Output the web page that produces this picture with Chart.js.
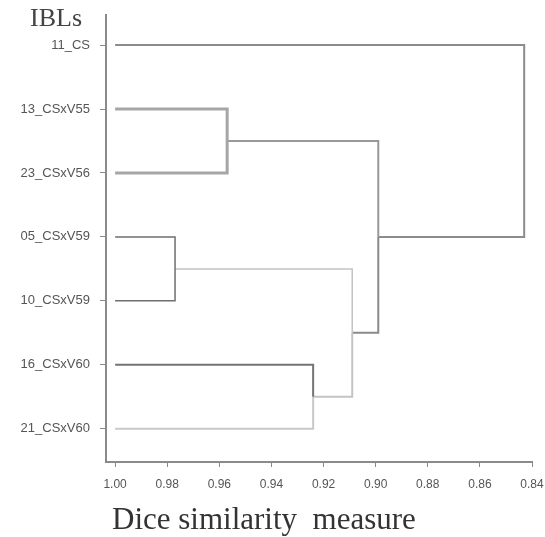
<!DOCTYPE html>
<html>
<head>
<meta charset="utf-8">
<script src="https://cdn.jsdelivr.net/npm/chart.js@4"></script>
<style>
  html, body { margin: 0; padding: 0; background: #fff; }
</style>
</head>
<body>
<canvas id="dendro" width="545" height="537"></canvas>
<script>
// leaves, top to bottom
const leafLabels = ['11_CS', '13_CSxV55', '23_CSxV56', '05_CSxV59', '10_CSxV59', '16_CSxV60', '21_CSxV60'];
// merges: [child A, child B, similarity]; leaves are 0..6, new clusters get 7, 8, ...
const mergeA = [3, 1, 5, 7, 8, 0];
const mergeB = [4, 2, 6, 9, 10, 11];
const mergeSim = [0.977, 0.957, 0.924, 0.909, 0.899, 0.843];
const xTicks = [1.00, 0.98, 0.96, 0.94, 0.92, 0.90, 0.88, 0.86, 0.84];
const xTickLabels = ['1.00', '0.98', '0.96', '0.94', '0.92', '0.90', '0.88', '0.86', '0.84'];

// colour of the branch leading up from each node (leaves 0..6, clusters 7..11)
const branchColors = ['#8c8c8c', '#a6a6a6', '#a6a6a6', '#6f6f6f', '#6f6f6f', '#737373', '#c9c9c9',
                      '#c3c3c3', '#999999', '#c3c3c3', '#8a8a8a', '#8c8c8c'];
const branchWidths = [2, 3, 3, 1.5, 1.5, 2, 2, 1.5, 2, 2, 2, 2];

// node positions: x = similarity, y = leaf row
const nodeX = leafLabels.map(() => 1.0);
const nodeY = leafLabels.map((_, i) => i);
mergeSim.forEach((s, i) => {
    nodeX.push(s);
    nodeY.push((nodeY[mergeA[i]] + nodeY[mergeB[i]]) / 2);
});

const datasets = [];
mergeSim.forEach((s, i) => {
    const parent = leafLabels.length + i;
    [mergeA[i], mergeB[i]].forEach(child => {
        datasets.push({
            data: [
                { x: nodeX[child], y: nodeY[child] },
                { x: s, y: nodeY[child] },
                { x: s, y: nodeY[parent] }
            ],
            showLine: true,
            borderColor: branchColors[child],
            borderWidth: branchWidths[child],
            pointRadius: 0,
            fill: false,
            tension: 0
        });
    });
});

const textLabels = {
    id: 'textLabels',
    afterDraw(chart) {
        const ctx = chart.ctx;
        ctx.save();
        ctx.fillStyle = '#444';
        ctx.textBaseline = 'alphabetic';
        ctx.textAlign = 'left';
        ctx.font = '26px "Liberation Serif"';
        ctx.fillText('IBLs', 30, 26);
        ctx.fillStyle = '#333';
        ctx.font = '31px "Liberation Serif"';
        ctx.fillText('Dice similarity  measure', 112, 529);
        ctx.restore();
    }
};

new Chart(document.getElementById('dendro'), {
    type: 'scatter',
    data: { datasets: datasets },
    options: {
        responsive: false,
        animation: false,
        layout: { padding: { top: 15, right: 13, left: 0, bottom: 0 } },
        plugins: {
            legend: { display: false },
            tooltip: { enabled: false }
        },
        scales: {
            x: {
                type: 'linear',
                reverse: true,
                min: 0.84,
                max: 1.0035,
                afterBuildTicks: scale => { scale.ticks = xTicks.map(v => ({ value: v })); },
                afterFit: scale => {
                    scale.height = 75;
                    scale.paddingLeft = 0;
                    scale.paddingRight = 0;
                },
                border: { display: true, color: '#8a8a8a', width: 2 },
                grid: { drawOnChartArea: false, drawTicks: true, tickLength: 5, color: '#8a8a8a' },
                ticks: {
                    padding: 10,
                    color: '#555',
                    font: { family: '"Liberation Sans"', size: 12 },
                    callback: (v, i) => xTickLabels[i]
                }
            },
            y: {
                type: 'linear',
                reverse: true,
                min: -0.47,
                max: 6.52,
                afterBuildTicks: scale => { scale.ticks = leafLabels.map((_, i) => ({ value: i })); },
                afterFit: scale => {
                    scale.width = 106;
                    scale.paddingTop = 0;
                    scale.paddingBottom = 0;
                },
                border: { display: true, color: '#8a8a8a', width: 2 },
                grid: { drawOnChartArea: false, drawTicks: true, tickLength: 6, color: '#8a8a8a' },
                ticks: {
                    padding: 10,
                    color: '#555',
                    font: { family: '"Liberation Sans"', size: 13 },
                    callback: v => leafLabels[v]
                }
            }
        }
    },
    plugins: [textLabels]
});
</script>
</body>
</html>
